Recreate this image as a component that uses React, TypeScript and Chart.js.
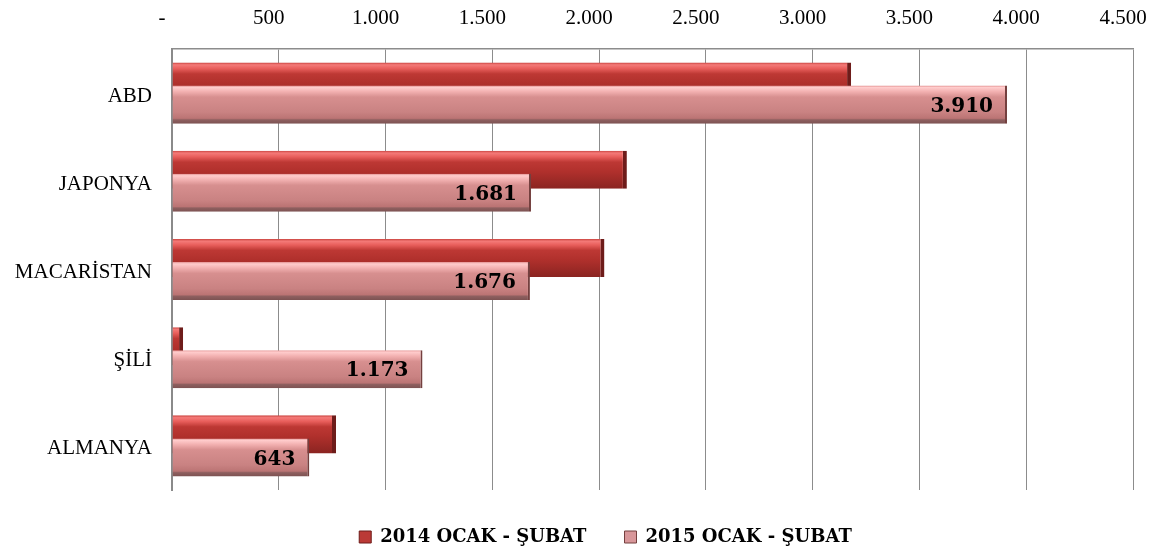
import React, { useEffect, useRef } from "react";
import { Chart, registerables } from "chart.js";

Chart.register(...registerables);

// ---- data ----
const categories = ["ABD", "JAPONYA", "MACARİSTAN", "ŞİLİ", "ALMANYA"];
const values2014 = [3180, 2130, 2025, 52, 768];
const values2015 = [3910, 1681, 1676, 1173, 643];
const seriesNames = ["2014 OCAK - ŞUBAT", "2015 OCAK - ŞUBAT"];
const axisMin = 0;
const axisMax = 4500;
const axisStep = 500;

const fmt = (v: number): string =>
  v === 0 ? "-" : String(Math.round(v)).replace(/\B(?=(\d{3})+(?!\d))/g, ".");

const stops2014: [number, string][] = [
  [0, "#c8423e"],
  [0.06, "#f47a78"],
  [0.16, "#e85e5b"],
  [0.3, "#bd3834"],
  [0.55, "#b0302c"],
  [1, "#8a2421"],
];
const stops2015: [number, string][] = [
  [0, "#e39393"],
  [0.05, "#ffcccc"],
  [0.16, "#f2b0b0"],
  [0.3, "#d78f8f"],
  [0.7, "#c98282"],
  [0.86, "#bb7474"],
  [0.9, "#8e5f5f"],
  [1, "#7c5252"],
];

const makeFill = (stops: [number, string][], fallback: string) => (c: any) => {
  const el = c.element;
  const ctx = c.chart.ctx;
  if (!el || !isFinite(el.y) || !isFinite(el.height) || !el.height) return fallback;
  const top = el.y - el.height / 2;
  const g = ctx.createLinearGradient(0, top, 0, top + el.height);
  stops.forEach(([o, col]) => g.addColorStop(o, col));
  return g;
};

const valueLabels = {
  id: "valueLabels",
  afterDatasetsDraw(chart: any) {
    const meta = chart.getDatasetMeta(1);
    const ctx = chart.ctx;
    ctx.save();
    ctx.font = "bold 20px 'DejaVu Serif'";
    ctx.fillStyle = "#000";
    ctx.textAlign = "right";
    ctx.textBaseline = "middle";
    meta.data.forEach((el: any, i: number) => {
      ctx.fillText(fmt(values2015[i]), el.x - 14, el.y + 2);
    });
    ctx.restore();
  },
};

// let the category labels extend left of the (narrow) y-axis box
const unclipY = {
  id: "unclipY",
  afterLayout(chart: any) {
    if (chart.scales.y) chart.scales.y.left = 0;
  },
};

export default function App() {
  const ref = useRef<HTMLCanvasElement | null>(null);

  useEffect(() => {
    document.body.style.overflow = "hidden";
    if (!ref.current) return;
    const nulls = categories.map(() => null);
    const chart = new Chart(ref.current, {
      type: "bar",
      data: {
        labels: categories,
        datasets: [
          { label: "_pad", data: nulls as any, stack: "s2014" },
          {
            label: seriesNames[1],
            data: values2015,
            stack: "s2015",
            backgroundColor: makeFill(stops2015, "#d48e8e") as any,
            borderColor: "#74403f",
            borderWidth: { top: 0, right: 2, bottom: 0, left: 0 } as any,
          },
          {
            label: seriesNames[0],
            data: values2014,
            stack: "s2014",
            backgroundColor: makeFill(stops2014, "#b8342f") as any,
            borderColor: "#6e1c1a",
            borderWidth: { top: 0, right: 4, bottom: 0, left: 0 } as any,
          },
        ],
      },
      options: {
        indexAxis: "y",
        animation: false,
        responsive: true,
        maintainAspectRatio: false,
        layout: { padding: { left: 48, right: 0, top: 0, bottom: 0 } },
        datasets: {
          bar: { categoryPercentage: 0.523, barPercentage: 1.65, grouped: true },
        },
        scales: {
          x: {
            type: "linear",
            position: "top",
            stacked: false,
            min: axisMin,
            max: axisMax,
            ticks: {
              stepSize: axisStep,
              callback: (v: any) => fmt(Number(v)),
              font: { family: "'Liberation Serif'", size: 21 },
              color: "#000",
              padding: 18,
              labelOffset: -10,
            },
            grid: { color: "#8c8c8c", lineWidth: 1, drawTicks: false },
            border: { display: true, color: "#8c8c8c", width: 1.5 },
            afterFit: (s: any) => {
              s.height = 41;
              s.paddingRight = 22;
            },
          },
          y: {
            type: "category",
            position: "left",
            ticks: {
              font: { family: "'Liberation Serif'", size: 21 },
              color: "#000",
              padding: 20,
              labelOffset: 3,
            },
            grid: { display: false, drawTicks: false },
            border: { display: true, color: "#8a8a8a", width: 2 },
            afterFit: (s: any) => {
              s.width = 116;
            },
          },
        },
        plugins: {
          tooltip: { enabled: false },
          legend: {
            position: "bottom",
            labels: {
              font: { family: "'DejaVu Serif'", size: 18, weight: "bold" },
              color: "#000",
              boxWidth: 12,
              boxHeight: 12,
              padding: 38,
              generateLabels: () =>
                [
                  {
                    text: seriesNames[0],
                    fillStyle: "#bb3a36",
                    strokeStyle: "#6e1c1a",
                    lineWidth: 1,
                    datasetIndex: 2,
                    hidden: false,
                  },
                  {
                    text: seriesNames[1],
                    fillStyle: "#d8979a",
                    strokeStyle: "#74403f",
                    lineWidth: 1,
                    datasetIndex: 1,
                    hidden: false,
                  },
                ] as any,
            },
          },
        },
      } as any,
      plugins: [valueLabels, unclipY],
    });
    chart.update();
    return () => chart.destroy();
  }, []);

  return (
    <div style={{ position: "relative", width: 1147, height: 548 }}>
      <canvas ref={ref} />
    </div>
  );
}
